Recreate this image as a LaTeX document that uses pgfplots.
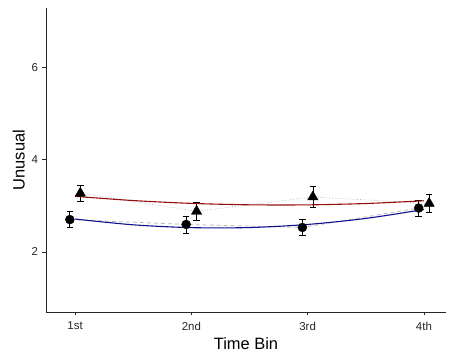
\documentclass[border=0pt]{standalone}
\usepackage{fontspec}
\setmainfont{Liberation Sans}
\usepackage{pgfplots}
\pgfplotsset{compat=1.18}
\definecolor{fitred}{RGB}{150,15,15}
\definecolor{fitblue}{RGB}{15,15,145}
\definecolor{linkgrey}{RGB}{185,185,185}
\begin{document}
\begin{tikzpicture}
\useasboundingbox (0,0) rectangle (449bp,356bp);
\begin{axis}[
  at={(46bp,44bp)}, anchor=south west,
  scale only axis, width=400bp, height=304bp,
  xmin=0.75, xmax=4.19, ymin=0.7, ymax=7.28,
  axis x line*=bottom, axis y line*=left,
  axis line style={-, line width=0.7bp, black!85},
  xtick={1,2,3,4}, xticklabels={1st,2nd,3rd,4th},
  ytick={2,4,6},
  tick align=outside, major tick length=3.5bp,
  tick style={line width=0.6bp, black!85},
  /pgf/number format/assume math mode=true,
  tick label style={font=\fontsize{11.5}{13}\selectfont, text=black!85},
  xticklabel style={yshift=-3bp},
  yticklabel style={xshift=-1bp},
  xlabel={Time Bin}, ylabel={Unusual},
  label style={font=\fontsize{16.5}{18}\selectfont},
  xlabel style={yshift=0bp},
  ylabel style={yshift=0bp},
  clip=false,
]
% raw means joined in grey
\addplot[linkgrey, line width=0.8bp, dashed, dash pattern=on 4bp off 3bp] coordinates {
  (0.955,2.70) (1.955,2.595) (2.955,2.53) (3.955,2.95)};
\addplot[linkgrey, line width=0.8bp, dotted] coordinates {
  (1.045,3.27) (2.045,2.88) (3.045,3.19) (4.045,3.05)};
% group means with error bars
\addplot[black, only marks, mark=*, mark size=4.5bp,
  error bars/.cd, y dir=both, y explicit,
  error bar style={line width=0.7bp, black},
  error mark options={rotate=90, mark size=3.3bp, line width=0.7bp, black}]
  coordinates {
  (0.955,2.70) +- (0,0.177)
  (1.955,2.595) +- (0,0.185)
  (2.955,2.53) +- (0,0.18)
  (3.955,2.95) +- (0,0.173)};
\addplot[black, only marks, mark=triangle*, mark size=6bp,
  error bars/.cd, y dir=both, y explicit,
  error bar style={line width=0.7bp, black},
  error mark options={rotate=90, mark size=3.3bp, line width=0.7bp, black}]
  coordinates {
  (1.045,3.27) +- (0,0.17)
  (2.045,2.88) +- (0,0.19)
  (3.045,3.19) +- (0,0.22)
  (4.045,3.05) +- (0,0.195)};
% quadratic fits
\addplot[fitred, line width=1.1bp, smooth] coordinates {
  (1,3.203) (1.5,3.112) (2,3.051) (2.5,3.020) (3,3.019) (3.5,3.048) (4,3.107)};
\addplot[fitblue, line width=1.1bp, smooth] coordinates {
  (1,2.712) (1.5,2.587) (2,2.526) (2.5,2.528) (3,2.595) (3.5,2.725) (4,2.919)};
\end{axis}
\end{tikzpicture}
\end{document}
